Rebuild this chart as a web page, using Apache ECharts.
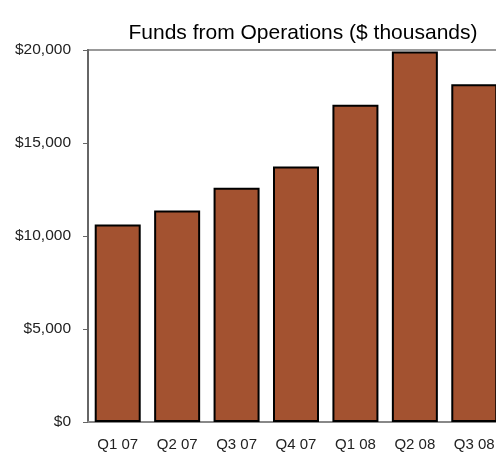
<!DOCTYPE html>
<html>
<head>
<meta charset="utf-8">
<script src="https://cdn.jsdelivr.net/npm/echarts@6/dist/echarts.min.js"></script>
<style>
  html, body { margin: 0; padding: 0; background: #fff; overflow: hidden; }
  /* wider than the window: the reference plot runs off the right edge */
  #chart { width: 530px; height: 452px; }
</style>
</head>
<body>
<div id="chart"></div>
<script>
// quarters and FFO values ($ thousands)
var quarters = ['Q1 07', 'Q2 07', 'Q3 07', 'Q4 07', 'Q1 08', 'Q2 08', 'Q3 08'];
var ffo = [10620, 11370, 12590, 13730, 17050, 19920, 18160];
var yTicks = { min: 0, max: 20000, step: 5000 };

function money(v) {
  return '$' + v.toString().replace(/\B(?=(\d{3})+(?!\d))/g, ',');
}

var chart = echarts.init(document.getElementById('chart'), null, { renderer: 'canvas' });

chart.setOption({
  animation: false,
  textStyle: { fontFamily: 'Liberation Sans, Arial, sans-serif' },
  title: {
    text: 'Funds from Operations ($ thousands)',
    left: 298,
    top: 18,
    textAlign: 'center',
    textStyle: { fontSize: 21, fontWeight: 'normal', color: '#000' }
  },
  grid: {
    left: 88, top: 50, width: 416, height: 373,
    show: true,
    borderColor: '#999',
    borderWidth: 2,
    backgroundColor: '#fff'
  },
  xAxis: {
    type: 'category',
    data: quarters,
    axisTick: { show: false },
    axisLine: { lineStyle: { color: '#888', width: 2 } },
    axisLabel: { color: '#222', fontSize: 15, margin: 15, interval: 0 }
  },
  yAxis: {
    type: 'value',
    min: yTicks.min,
    max: yTicks.max,
    interval: yTicks.step,
    splitLine: { show: false },
    axisLine: { show: true, lineStyle: { color: '#666', width: 2 } },
    axisTick: { show: true, length: 5, lineStyle: { color: '#666' } },
    axisLabel: { color: '#222', fontSize: 15.5, margin: 17, formatter: money }
  },
  series: [{
    type: 'bar',
    data: ffo,
    barWidth: 46,
    itemStyle: { color: '#A35230', borderColor: '#000', borderWidth: 2 }
  }]
});
</script>
</body>
</html>
